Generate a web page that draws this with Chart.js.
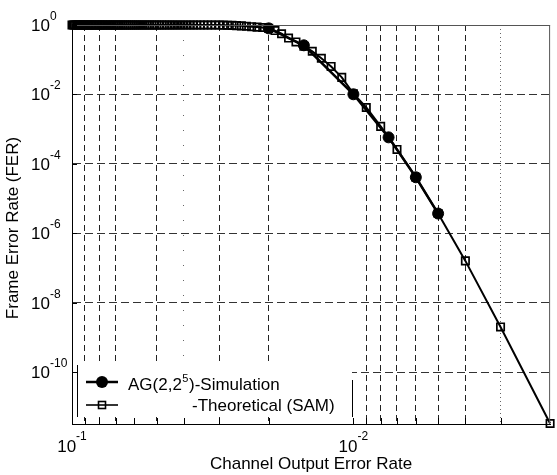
<!DOCTYPE html>
<html><head><meta charset="utf-8">
<script src="https://cdn.jsdelivr.net/npm/chart.js@4.4.1/dist/chart.umd.min.js"></script>
<style>html,body{margin:0;padding:0;background:#fff;overflow:hidden}canvas{display:block}</style>
</head><body>
<canvas id="c" width="557" height="475"></canvas>
<script>
// ---- data ----
const theoRate = [
  0.100,0.099,0.098,0.097,0.096,0.095,0.094,0.093,0.092,0.091,
  0.090,0.089,0.088,0.087,0.086,0.085,0.084,0.083,0.082,0.081,
  0.080,0.079,0.078,0.077,0.076,0.075,0.074,0.073,0.072,0.071,
  0.070,0.069,0.068,0.067,0.066,0.065,0.064,0.063,0.062,0.061,
  0.060,0.059,0.058,0.057,0.056,0.055,0.054,0.053,0.052,0.051,
  0.050,0.049,0.048,0.047,0.046,0.045,0.044,0.043,0.042,0.041,
  0.040,0.039,0.038,0.037,0.036,0.035,0.034,0.033,0.032,0.031,
  0.030,0.029,0.028,0.027,0.026,0.025,0.024,0.023,0.022,0.021,
  0.020,0.019,0.018,0.017,0.016,0.015,0.014,0.013,0.012,0.011,
  0.010,0.009,0.008,0.007,0.006,0.005,0.004,0.003,0.002
];
const theoFER = [
  1,1,1,1,1,1,1,1,1,1,
  1,1,1,1,1,1,1,1,1,1,
  1,1,1,1,1,1,1,1,1,1,
  1,1,1,1,1,1,1,1,1,1,
  1,1,1,1,1,1,1,1,1,1,
  1,1,1,1,1,1,1,1,1,1,
  1,1,1,1,1,1,1,1,1,1,
  0.995,0.99,0.985,0.975,0.96,0.945,0.92,0.895,0.87,0.845,
  0.80,0.69,0.56,0.42,0.325,0.245,0.175,0.11,0.064,0.031,
  0.0105,0.0042,0.0012,2.6e-4,4.1e-5,3.7e-6,1.6e-7,2.0e-9,3.3e-12
];
const simRate = [0.020,0.015,0.010,0.0075,0.006,0.005];
const simFER  = [0.80,0.26,0.0101,5.8e-4,4.1e-5,3.7e-6];

const xDecadeTicks  = [0.1, 0.01];
const xDecadeExps   = ['-1','-2'];
const yDecadeTicks  = [1,1e-2,1e-4,1e-6,1e-8,1e-10];
const yDecadeExps   = ['0','-2','-4','-6','-8','-10'];
const xMinorTicks   = [0.09,0.08,0.07,0.06,0.05,0.04,0.03,0.02,0.01,0.009,0.008,0.007,0.006,0.005,0.004,0.003];
const xDashedGrid   = [0.09,0.08,0.07,0.05,0.03,0.02,0.009,0.008,0.007,0.006,0.005,0.004];
const xDottedGrid   = [0.04,0.003];
const yGridLines    = [1e-2,1e-4,1e-6,1e-8,1e-10];
const xRange = [0.002, 0.1];
const yRange = [3.2e-12, 1];
const legendSim = ['AG(2,2', '5', ')-Simulation'];
const legendTheo = '-Theoretical (SAM)';
const xTitle = 'Channel Output Error Rate';
const yTitle = 'Frame Error Rate (FER)';

const FONT = '"Liberation Sans", Arial, Helvetica, sans-serif';
const inList = (v, list) => list.some(u => Math.abs(u - v) / u < 1e-6);

const annot = {
  id: 'annot',
  afterDatasetsDraw(chart) {
    const ctx = chart.ctx, a = chart.chartArea;
    const xs = chart.scales.x, ys = chart.scales.y;
    ctx.save();
    // top & right frame
    ctx.strokeStyle = '#555'; ctx.lineWidth = 1;
    ctx.beginPath();
    ctx.moveTo(a.left, a.top + 0.5); ctx.lineTo(a.right, a.top + 0.5);
    ctx.moveTo(a.right - 0.5, a.top); ctx.lineTo(a.right - 0.5, a.bottom);
    ctx.stroke();

    // legend box (white, left/right edges only)
    const lx0 = 77, lx1 = 352, ly0 = 365, ly1 = 417;
    ctx.fillStyle = '#fff';
    ctx.fillRect(lx0, ly0, lx1 - lx0, ly1 - ly0);
    ctx.strokeStyle = '#000'; ctx.lineWidth = 1;
    ctx.beginPath();
    ctx.moveTo(lx0 + 0.5, ly0); ctx.lineTo(lx0 + 0.5, ly1);
    ctx.moveTo(lx1 + 0.5, 380); ctx.lineTo(lx1 + 0.5, ly1);
    ctx.stroke();
    // item 1
    ctx.lineWidth = 2.5;
    ctx.beginPath(); ctx.moveTo(86, 382); ctx.lineTo(118, 382); ctx.stroke();
    ctx.fillStyle = '#000';
    ctx.beginPath(); ctx.arc(102, 382, 6, 0, Math.PI * 2); ctx.fill();
    ctx.textAlign = 'left'; ctx.textBaseline = 'alphabetic';
    ctx.font = '17px ' + FONT;
    let tx = 128;
    ctx.fillText(legendSim[0], tx, 390); tx += ctx.measureText(legendSim[0]).width;
    ctx.font = '11px ' + FONT;
    ctx.fillText(legendSim[1], tx + 0.5, 382); tx += ctx.measureText(legendSim[1]).width + 1;
    ctx.font = '17px ' + FONT;
    ctx.fillText(legendSim[2], tx, 390);
    // item 2 (hollow square, line passes through)
    ctx.lineWidth = 1.6;
    ctx.beginPath(); ctx.moveTo(86, 405); ctx.lineTo(118, 405); ctx.stroke();
    ctx.strokeRect(98.5, 401.5, 7, 7);
    ctx.fillText(legendTheo, 192, 411);

    // inward ticks
    ctx.lineWidth = 1; ctx.strokeStyle = '#000';
    ctx.beginPath();
    xMinorTicks.forEach(v => {
      const px = Math.round(xs.getPixelForValue(v)) + 0.5;
      ctx.moveTo(px, a.bottom); ctx.lineTo(px, a.bottom - 6);
    });
    yDecadeTicks.forEach(v => {
      const py = Math.round(ys.getPixelForValue(v)) + 0.5;
      ctx.moveTo(a.left, py); ctx.lineTo(a.left + 5, py);
    });
    ctx.stroke();
    ctx.restore();
  },
  afterDraw(chart) {
    const ctx = chart.ctx, a = chart.chartArea;
    const xs = chart.scales.x, ys = chart.scales.y;
    ctx.save();
    ctx.fillStyle = '#000';
    ctx.textBaseline = 'alphabetic';
    // x tick labels
    xDecadeTicks.forEach((v, i) => {
      const px = xs.getPixelForValue(v);
      ctx.font = '17px ' + FONT;
      const w1 = ctx.measureText('10').width;
      ctx.font = '12px ' + FONT;
      const w2 = ctx.measureText(xDecadeExps[i]).width;
      const s = px - (w1 + w2) / 2;
      ctx.textAlign = 'left';
      ctx.font = '17px ' + FONT; ctx.fillText('10', s, 452);
      ctx.font = '12px ' + FONT; ctx.fillText(xDecadeExps[i], s + w1, 440);
    });
    // y tick labels
    yDecadeTicks.forEach((v, i) => {
      const py = ys.getPixelForValue(v);
      ctx.textAlign = 'right';
      ctx.font = '17px ' + FONT; ctx.fillText('10', 50, py + 6);
      ctx.textAlign = 'left';
      ctx.font = '12px ' + FONT; ctx.fillText(yDecadeExps[i], 50, py - 5);
    });
    // axis titles
    ctx.font = '17px ' + FONT;
    ctx.textAlign = 'center';
    ctx.fillText(xTitle, (a.left + a.right) / 2, 469);
    ctx.translate(18, 228);
    ctx.rotate(-Math.PI / 2);
    ctx.fillText(yTitle, 0, 0);
    ctx.restore();
  }
};

const gridColorX = c => {
  const v = c.tick && c.tick.value;
  if (v === undefined) return 'rgba(0,0,0,0)';
  if (inList(v, xDashedGrid)) return '#222';
  if (inList(v, xDottedGrid)) return '#666';
  return 'rgba(0,0,0,0)';
};
const gridDashX = c => {
  const v = c.tick && c.tick.value;
  if (v === undefined) return [];
  if (inList(v, xDottedGrid)) return v > 0.01 ? [1, 14] : [1, 3];
  return [6, 4];
};
const gridColorY = c => {
  const v = c.tick && c.tick.value;
  if (v === undefined) return 'rgba(0,0,0,0)';
  return inList(v, yGridLines) ? '#333' : 'rgba(0,0,0,0)';
};

new Chart(document.getElementById('c'), {
  type: 'line',
  data: {
    datasets: [
      {
        label: legendSim.join(''),
        data: simRate.map((x, i) => ({x, y: simFER[i]})),
        borderColor: '#000', backgroundColor: '#000',
        borderWidth: 2.5, pointRadius: 5.5, pointBorderWidth: 1,
        pointStyle: 'circle', pointBackgroundColor: '#000', pointBorderColor: '#000',
        tension: 0, clip: false
      },
      {
        label: legendTheo,
        data: theoRate.map((x, i) => ({x, y: theoFER[i]})),
        borderColor: '#000', backgroundColor: 'rgba(0,0,0,0)',
        borderWidth: 2, pointRadius: 5.2, pointBorderWidth: 1.7,
        pointStyle: 'rect', pointBackgroundColor: 'rgba(0,0,0,0)', pointBorderColor: '#000',
        tension: 0, clip: false
      }
    ]
  },
  options: {
    responsive: false, animation: false, devicePixelRatio: 1,
    layout: {padding: {left: 72, top: 25, right: 4, bottom: 51}},
    plugins: {legend: {display: false}, tooltip: {enabled: false}},
    scales: {
      x: {
        type: 'logarithmic', reverse: true, min: xRange[0], max: xRange[1],
        afterBuildTicks: s => { s.ticks = xDecadeTicks.concat(xMinorTicks).map(v => ({value: v})); },
        ticks: {display: false},
        grid: {color: gridColorX, lineWidth: 1, drawTicks: false},
        border: {display: true, color: '#000', width: 1, dash: gridDashX},
        title: {display: false}
      },
      y: {
        type: 'logarithmic', min: yRange[0], max: yRange[1],
        afterBuildTicks: s => { s.ticks = yDecadeTicks.map(v => ({value: v})); },
        ticks: {display: false},
        grid: {color: gridColorY, lineWidth: 1, drawTicks: false},
        border: {display: true, color: '#000', width: 1, dash: c => (c.tick ? [8, 4] : [])},
        title: {display: false}
      }
    }
  },
  plugins: [annot]
});
</script>
</body></html>
